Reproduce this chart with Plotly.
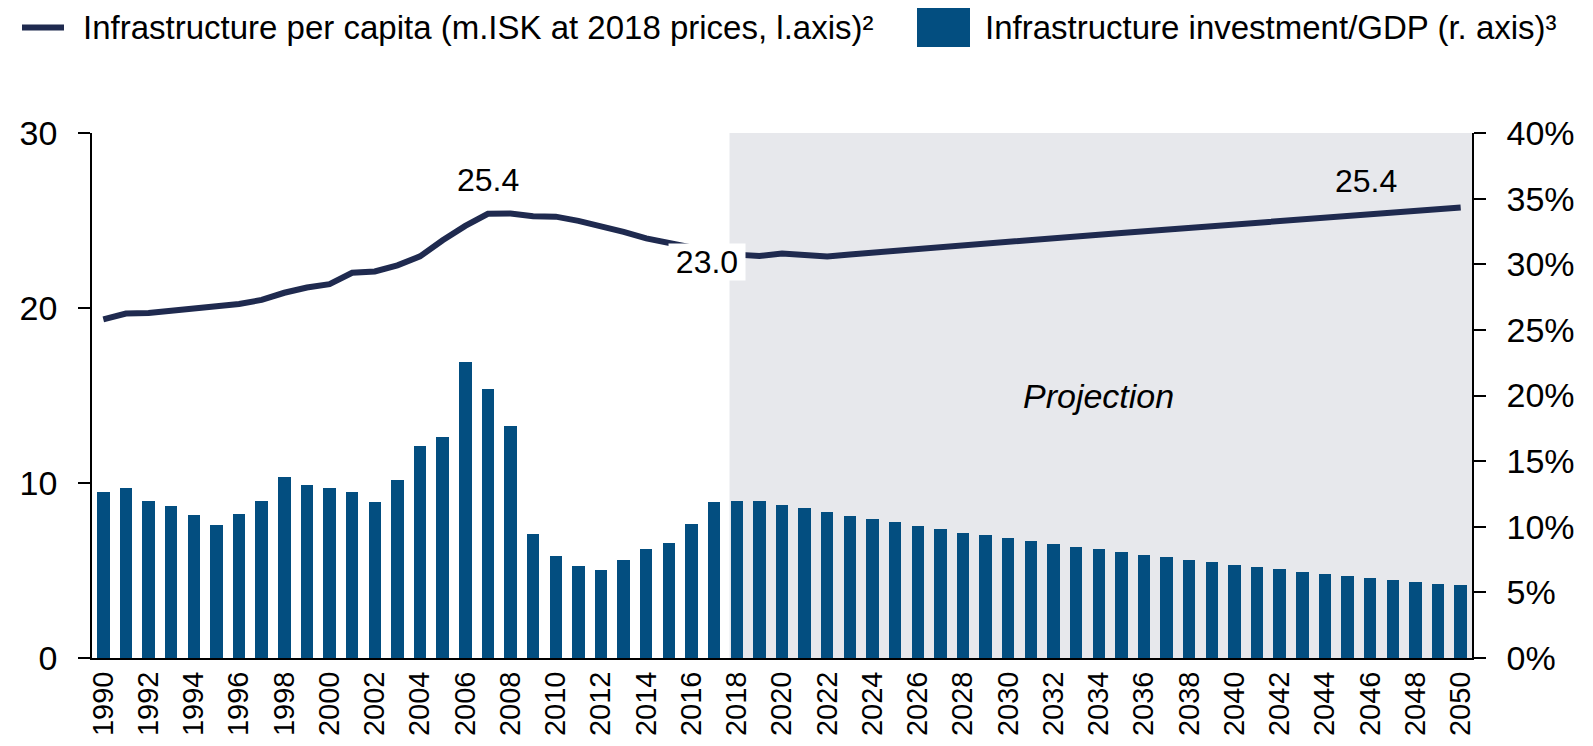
import plotly.graph_objects as go

years = list(range(1990, 2051))

# Infrastructure per capita, m.ISK at 2018 prices (left axis)
infra_per_capita = [
    19.35, 19.68, 19.72, 19.84, 19.95, 20.05, 20.23, 20.46, 20.87, 21.17,
    21.36, 22.01, 22.09, 22.44, 22.95, 23.87, 24.69, 25.38, 25.40, 25.25,
    25.22, 24.98, 24.68, 24.35, 23.98, 23.73, 23.45, 23.20, 23.05, 22.97,
    23.12, 23.03, 22.95, 23.06, 23.17, 23.28, 23.38, 23.49, 23.59, 23.70,
    23.80, 23.90, 24.00, 24.10, 24.19, 24.29, 24.39, 24.48, 24.58, 24.68,
    24.77, 24.87, 24.97, 25.06, 25.16, 25.26, 25.35, 25.45, 25.54, 25.63,
    25.74,
]

# Infrastructure investment / GDP, % (right axis)
invest_gdp = [
    12.67, 12.94, 11.99, 11.61, 10.90, 10.16, 10.95, 11.99, 13.81, 13.19,
    12.92, 12.67, 11.85, 13.57, 16.19, 16.84, 22.59, 20.49, 17.68, 9.48,
    7.79, 6.98, 6.73, 7.49, 8.34, 8.80, 10.19, 11.88, 11.99, 11.99,
    11.69, 11.42, 11.09, 10.84, 10.60, 10.33, 10.05, 9.84, 9.56, 9.35,
    9.13, 8.88, 8.66, 8.47, 8.28, 8.04, 7.85, 7.66, 7.49, 7.28,
    7.11, 6.95, 6.78, 6.59, 6.43, 6.27, 6.10, 5.97, 5.80, 5.67,
    5.53,
]

x_ticks = years[::2]
left_ticks = [0, 10, 20, 30]
right_ticks = [0, 5, 10, 15, 20, 25, 30, 35, 40]

projection_start = 2018
line_labels = [(2007, 27.3, "25.4"), (2016.7, 22.65, "23.0"), (2045.8, 27.25, "25.4")]

LINE_COLOR = "#1f2a4f"
BAR_COLOR = "#034e80"
SHADE = "#e7e8ec"
FONT = "Liberation Sans, Arial, sans-serif"

# page offset (body margin) so the plot area lands where the reference has it
OFF = 8
W, H = 1585, 738
L, R, T, B = 84, 121, 125, 88
pw, ph = W - L - R, H - T - B


def px(xs):
    return (xs - OFF - L) / pw


def py(ys):
    return (OFF + H - B - ys) / ph


bars = go.Bar(
    x=years,
    y=invest_gdp,
    yaxis="y2",
    width=0.55,
    marker=dict(color=BAR_COLOR, line=dict(width=0)),
    name="Infrastructure investment/GDP (r. axis)",
    showlegend=False,
)

line = go.Scatter(
    x=years,
    y=infra_per_capita,
    mode="lines",
    line=dict(color=LINE_COLOR, width=6),
    name="Infrastructure per capita",
    showlegend=False,
)

fig = go.Figure(data=[line, bars])

annotations = []
for xv, yv, txt in line_labels:
    ann = dict(
        x=xv, y=yv, xref="x", yref="y", text=txt, showarrow=False,
        font=dict(family=FONT, size=32, color="black"),
    )
    if txt == "23.0":
        ann.update(bgcolor="white", width=76, borderpad=0)
    annotations.append(ann)

annotations.append(
    dict(
        x=2034, y=15.0, xref="x", yref="y", text="<i>Projection</i>", showarrow=False,
        font=dict(family=FONT, size=34, color="black"),
    )
)

# custom legend
annotations += [
    dict(
        x=px(81), y=py(27), xref="paper", yref="paper", xanchor="left", yanchor="middle",
        text="Infrastructure per capita (m.ISK at 2018 prices, l.axis)²",
        showarrow=False, font=dict(family=FONT, size=33, color="black"),
    ),
    dict(
        x=px(983), y=py(27), xref="paper", yref="paper", xanchor="left", yanchor="middle",
        text="Infrastructure investment/GDP (r. axis)³",
        showarrow=False, font=dict(family=FONT, size=33, color="black"),
    ),
]

shapes = [
    dict(
        type="rect", xref="x", yref="paper", x0=projection_start - 0.32, x1=2050.5,
        y0=0, y1=1, fillcolor=SHADE, line=dict(width=0), layer="below",
    ),
    dict(
        type="line", xref="paper", yref="paper", x0=px(22), x1=px(64), y0=py(27.5), y1=py(27.5),
        line=dict(color=LINE_COLOR, width=6),
    ),
    dict(
        type="rect", xref="paper", yref="paper", x0=px(917), x1=px(970), y0=py(47), y1=py(7),
        fillcolor=BAR_COLOR, line=dict(width=0),
    ),
]

axis_common = dict(
    ticks="outside",
    ticklen=12,
    tickwidth=1.5,
    tickcolor="black",
    showline=True,
    linecolor="black",
    linewidth=1.5,
    showgrid=False,
    zeroline=False,
    automargin=False,
    ticklabelstandoff=14,
    tickfont=dict(family=FONT, size=34, color="black"),
)

fig.update_layout(
    width=W,
    height=H,
    margin=dict(l=L, r=R, t=T, b=B, pad=0),
    paper_bgcolor="white",
    plot_bgcolor="white",
    bargap=0,
    showlegend=False,
    annotations=annotations,
    shapes=shapes,
    xaxis=dict(
        range=[1989.5, 2050.5],
        tickvals=x_ticks,
        ticktext=[str(y) for y in x_ticks],
        tickangle=-90,
        ticks="",
        showgrid=False,
        zeroline=False,
        showline=True,
        linecolor="black",
        linewidth=2,
        automargin=False,
        tickfont=dict(family=FONT, size=29, color="black"),
    ),
    yaxis=dict(range=[0, 30], tickvals=left_ticks, **axis_common),
    yaxis2=dict(
        range=[0, 40],
        tickvals=right_ticks,
        ticktext=[f"{v}%" for v in right_ticks],
        overlaying="y",
        side="right",
        **axis_common,
    ),
)

fig.write_html("out.html")
